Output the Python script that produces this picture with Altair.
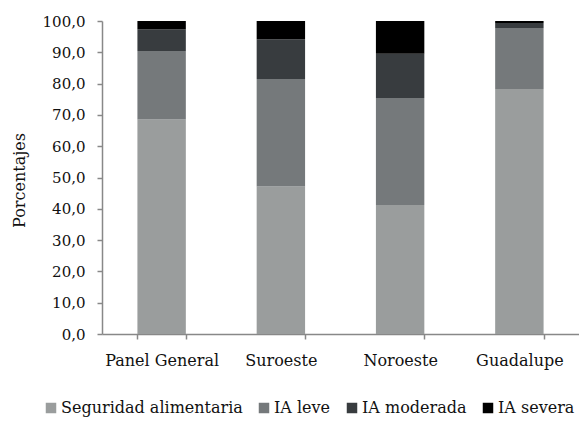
import altair as alt
import pandas as pd

regions = ["Panel General", "Suroeste", "Noroeste", "Guadalupe"]
categories = ["Seguridad alimentaria", "IA leve", "IA moderada", "IA severa"]
seguridad = [68.5, 47.1, 41.2, 78.3]
leve = [21.9, 34.4, 34.2, 19.5]
moderada = [7.0, 12.7, 14.1, 1.6]
severa = [2.6, 5.8, 10.5, 0.6]
colors = ["#9a9d9d", "#75797b", "#383c3f", "#000000"]
y_ticks = [0, 10, 20, 30, 40, 50, 60, 70, 80, 90, 100]

series = [seguridad, leve, moderada, severa]
rows = []
for i, r in enumerate(regions):
    for j, c in enumerate(categories):
        rows.append({"region": r, "cat": c, "value": series[j][i], "order": j})
df = pd.DataFrame(rows)

FONT = "DejaVu Serif"

chart = alt.Chart(df).mark_bar().encode(
    x=alt.X(
        "region:N",
        sort=regions,
        scale=alt.Scale(paddingInner=0.594, paddingOuter=0.297),
        axis=alt.Axis(
            title=None, labelAngle=0, tickBand="extent", tickSize=5,
            labelPadding=13, labelFont=FONT, labelFontSize=16, labelColor="#111111",
            domainColor="#888888", tickColor="#888888", domainWidth=1.5, tickWidth=1.5,
        ),
    ),
    y=alt.Y(
        "value:Q",
        stack="zero",
        scale=alt.Scale(domain=[0, 100], nice=False),
        axis=alt.Axis(
            values=y_ticks,
            labelExpr="replace(format(datum.value, '.1f'), '.', ',')",
            title="Porcentajes", titleFont=FONT, titleFontSize=16, titleFontWeight="normal",
            titleColor="#111111", titleX=-83, titleY=159, titleBaseline="middle",
            tickSize=5, labelPadding=12, labelFont=FONT, labelFontSize=15, labelColor="#111111",
            domainColor="#888888", tickColor="#888888", domainWidth=1.5, tickWidth=1.5,
            grid=False,
        ),
    ),
    color=alt.Color(
        "cat:N",
        sort=categories,
        scale=alt.Scale(domain=categories, range=colors),
        legend=alt.Legend(
            title=None, orient="none", legendX=-59, legendY=379, direction="horizontal",
            columns=4, symbolType="square", symbolSize=110, symbolStrokeWidth=0,
            labelFont=FONT, labelFontSize=16, labelColor="#111111", labelLimit=300,
            labelOffset=2, columnPadding=13,
        ),
    ),
    order=alt.Order("order:Q"),
).properties(
    width=477,
    height=313,
    autosize=alt.AutoSizeParams(type="none"),
    padding={"left": 94, "top": 13, "right": 0, "bottom": 84},
).configure(font=FONT).configure_view(stroke=None)

chart.save("out.html", embed_options={"renderer": "svg", "actions": False})
